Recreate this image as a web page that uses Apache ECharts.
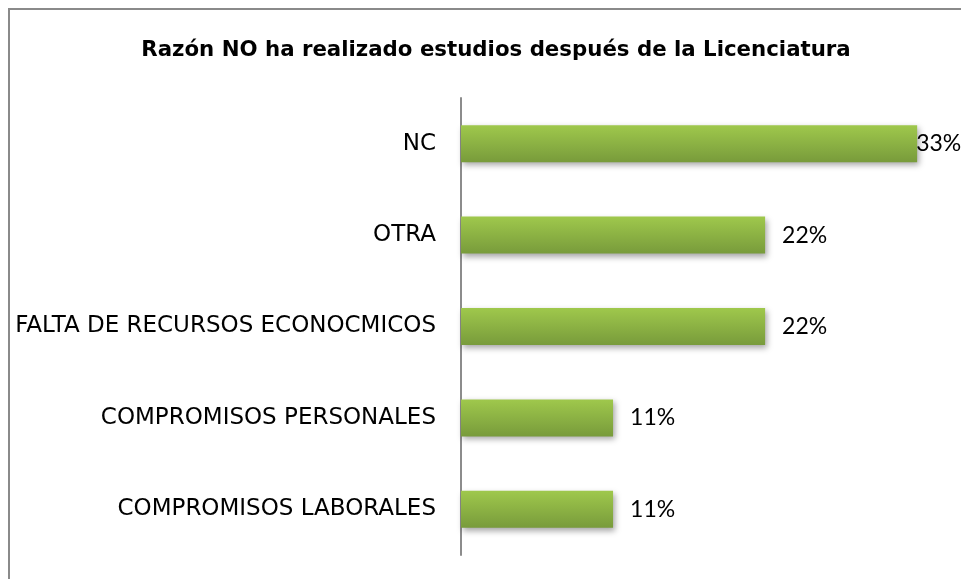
<!DOCTYPE html>
<html>
<head>
<meta charset="utf-8">
<script src="https://cdn.jsdelivr.net/npm/echarts@6/dist/echarts.min.js"></script>
<style>
  html, body { margin: 0; padding: 0; background: #fff; }
  #chart { width: 961px; height: 579px; }
</style>
</head>
<body>
<div id="chart"></div>
<script>
  // categories from bottom to top (as the y axis is drawn)
  var categories = ['COMPROMISOS LABORALES', 'COMPROMISOS PERSONALES', 'FALTA DE RECURSOS ECONOCMICOS', 'OTRA', 'NC']
  var percentages = [11.11, 11.11, 22.22, 22.22, 33.33]
  var titleText = 'Razón NO ha realizado estudios después de la Licenciatura'

  var fontFamily = '"DejaVu Sans", sans-serif'
  var labelFont = 'Lato, sans-serif'

  var chart = echarts.init(document.getElementById('chart'))

  var barData = percentages.map(function (v, i) {
    var item = { value: v }
    // the largest label sits over the end of its bar, as in the original
    if (i === percentages.length - 1) {
      item.label = { offset: [-18, 0] }
    }
    return item
  })

  chart.setOption({
    animation: false,
    title: {
      text: titleText,
      left: 491,
      top: 35,
      textAlign: 'center',
      textStyle: {
        fontFamily: fontFamily,
        fontWeight: 'bold',
        fontSize: 21.3,
        color: '#000'
      }
    },
    graphic: [{
      type: 'polyline',
      shape: { points: [[9, 600], [9, 9], [1000, 9]] },
      style: { stroke: '#8a8a8a', lineWidth: 2, fill: null },
      silent: true
    }],
    grid: {
      left: 461,
      top: 98,
      width: 479,
      height: 457,
      containLabel: false
    },
    xAxis: {
      type: 'value',
      min: 0,
      max: 35,
      show: false
    },
    yAxis: {
      type: 'category',
      data: categories,
      axisLine: { show: true, lineStyle: { color: '#8c8c8c', width: 2 } },
      axisTick: { show: false },
      axisLabel: {
        margin: 25,
        fontFamily: fontFamily,
        fontSize: 23,
        color: '#000'
      }
    },
    series: [{
      type: 'bar',
      data: barData,
      barWidth: 37,
      itemStyle: {
        color: new echarts.graphic.LinearGradient(0, 0, 0, 1, [
          { offset: 0, color: '#9fc84c' },
          { offset: 1, color: '#789b3b' }
        ]),
        shadowColor: 'rgba(0,0,0,0.35)',
        shadowBlur: 6,
        shadowOffsetX: 2,
        shadowOffsetY: 3
      },
      label: {
        show: true,
        position: 'right',
        distance: 17,
        fontFamily: labelFont,
        fontSize: 23,
        color: '#000',
        formatter: function (p) { return Math.round(p.value) + '%' }
      }
    }]
  })
</script>
</body>
</html>
